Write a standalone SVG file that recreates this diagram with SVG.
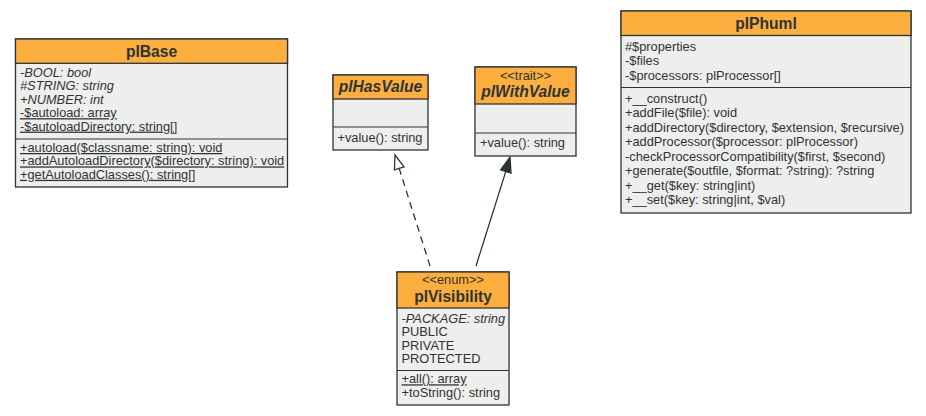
<svg xmlns="http://www.w3.org/2000/svg" width="926" height="416" viewBox="0 0 926 416">
<style>
.box{fill:#eeeeec;stroke:#2e3436;stroke-width:1.3}
.hdr{fill:#fcaf3e;stroke:#2e3436;stroke-width:1.3}
.div{stroke:#2e3436;stroke-width:1.2}
text{font-family:"Liberation Sans",Arial,sans-serif;fill:#2e3436}
.t{font-size:15.6px;font-weight:bold;text-anchor:middle}
.ti{font-size:15.6px;font-weight:bold;font-style:italic;text-anchor:middle}
.st{font-size:12.8px;text-anchor:middle}
.m{font-size:12.8px}
.i{font-style:italic}
.u{text-decoration:underline}
.edge{stroke:#2e3436;stroke-width:1.3;fill:none}
</style>
<rect width="926" height="416" fill="#ffffff"/>
<g id="connectors">
<line class="edge" x1="430" y1="266" x2="399.2" y2="168.4" stroke-dasharray="7,5"/>
<polygon points="395,155 404,166.9 394.4,169.9" fill="#ffffff" stroke="#2e3436" stroke-width="1.3"/>
<line class="edge" x1="476" y1="266" x2="505.8" y2="171.4"/>
<polygon points="510,157 511,173 500.6,170" fill="#2e3436" stroke="#2e3436" stroke-width="1.3"/>
</g>
<g id="plBase">
<rect class="box" x="15.5" y="39" width="272" height="148"/>
<rect class="hdr" x="15.5" y="39" width="272" height="24.3"/>
<text class="t" x="151.5" y="56.5">plBase</text>
<line class="div" x1="15.5" y1="139" x2="287.5" y2="139"/>
<text class="m i" x="20" y="77">-BOOL: bool</text>
<text class="m i" x="20" y="90.4">#STRING: string</text>
<text class="m i" x="20" y="103.8">+NUMBER: int</text>
<text class="m u" x="20" y="117.2">-$autoload: array</text>
<text class="m u" x="20" y="130.6">-$autoloadDirectory: string[]</text>
<text class="m u" x="20" y="152">+autoload($classname: string): void</text>
<text class="m u" x="20" y="165.4">+addAutoloadDirectory($directory: string): void</text>
<text class="m u" x="20" y="178.8">+getAutoloadClasses(): string[]</text>
</g>
<g id="plHasValue">
<rect class="box" x="333" y="75" width="95" height="75"/>
<rect class="hdr" x="333" y="75" width="95" height="24"/>
<text class="ti" x="380.5" y="92">plHasValue</text>
<line class="div" x1="333" y1="127" x2="428" y2="127"/>
<text class="m" x="337.5" y="142">+value(): string</text>
</g>
<g id="plWithValue">
<rect class="box" x="475" y="67" width="101" height="89"/>
<rect class="hdr" x="475" y="67" width="101" height="37"/>
<text class="st" x="525.5" y="80">&lt;&lt;trait&gt;&gt;</text>
<text class="ti" x="525.5" y="97">plWithValue</text>
<line class="div" x1="475" y1="133" x2="576" y2="133"/>
<text class="m" x="480" y="147">+value(): string</text>
</g>
<g id="plPhuml">
<rect class="box" x="621" y="11" width="290" height="202"/>
<rect class="hdr" x="621" y="11" width="290" height="24.5"/>
<text class="t" x="766" y="28.5">plPhuml</text>
<line class="div" x1="621" y1="87.5" x2="911" y2="87.5"/>
<text class="m" x="625" y="50.5">#$properties</text>
<text class="m" x="625" y="65">-$files</text>
<text class="m" x="625" y="79.5">-$processors: plProcessor[]</text>
<text class="m" x="625" y="102.5">+__construct()</text>
<text class="m" x="625" y="117">+addFile($file): void</text>
<text class="m" x="625" y="131.5">+addDirectory($directory, $extension, $recursive)</text>
<text class="m" x="625" y="146">+addProcessor($processor: plProcessor)</text>
<text class="m" x="625" y="160.5">-checkProcessorCompatibility($first, $second)</text>
<text class="m" x="625" y="175">+generate($outfile, $format: ?string): ?string</text>
<text class="m" x="625" y="189.5">+__get($key: string|int)</text>
<text class="m" x="625" y="204">+__set($key: string|int, $val)</text>
</g>
<g id="plVisibility">
<rect class="box" x="397" y="272" width="112" height="133"/>
<rect class="hdr" x="397" y="272" width="112" height="36"/>
<text class="st" x="453" y="284">&lt;&lt;enum&gt;&gt;</text>
<text class="t" x="453" y="302">plVisibility</text>
<line class="div" x1="397" y1="370.5" x2="509" y2="370.5"/>
<text class="m i" x="401.5" y="323">-PACKAGE: string</text>
<text class="m" x="401.5" y="336.3">PUBLIC</text>
<text class="m" x="401.5" y="349.6">PRIVATE</text>
<text class="m" x="401.5" y="363">PROTECTED</text>
<text class="m u" x="401.5" y="383.3">+all(): array</text>
<text class="m" x="401.5" y="396.6">+toString(): string</text>
</g>
</svg>
